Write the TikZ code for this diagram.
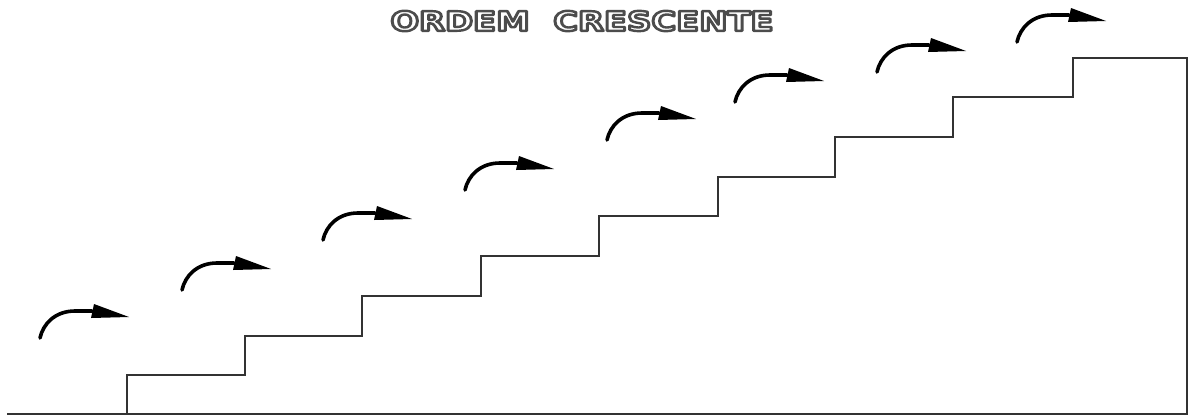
\documentclass[tikz,border=0pt]{standalone}
\usepackage{fontspec}
\newfontfamily\titlefont{DejaVu Sans}
\tikzset{
  stair/.style={line width=1.8pt, draw=black!80, line join=miter},
  shaft/.style={line width=3.6pt, line cap=round},
  curvearrow/.pic={
    \draw[shaft] (0,0) .. controls (3,-14) and (15,-27) .. (35,-27) -- (52,-27);
    \fill (54,-34) -- (51,-20) -- (89,-21) -- cycle;
  },
  titletext/.style={font=\titlefont\bfseries\fontsize{27}{27}\selectfont, inner sep=0pt, text=white}
}
\newcommand{\outlined}[1]{\special{pdf:literal direct 2 Tr 2.4 w 1 J 1 j 0.3 G}#1\special{pdf:literal direct 0 Tr}}
\begin{document}
\begin{tikzpicture}[x=1pt,y=-1pt]
\useasboundingbox (0,0) rectangle (1190,416);
% title
\node[titletext] (title) at (582,21) {\scalebox{1.25}[1]{\outlined{ORDEM\ \ CRESCENTE}}};
% staircase
\draw[stair] (7,414) -- (1187,414) -- (1187,58) -- (1073,58) -- (1073,97)
  -- (953,97) -- (953,137) -- (835,137) -- (835,177) -- (718,177)
  -- (718,216) -- (599,216) -- (599,256) -- (481,256) -- (481,296)
  -- (362,296) -- (362,336) -- (245,336) -- (245,375) -- (127,375) -- (127,414);
% arrows
\pic at (40,338) {curvearrow};
\pic at (182,290) {curvearrow};
\pic at (323,240) {curvearrow};
\pic at (465,190) {curvearrow};
\pic at (607,140) {curvearrow};
\pic at (735,102) {curvearrow};
\pic at (877,72) {curvearrow};
\pic at (1017,42) {curvearrow};
\end{tikzpicture}
\end{document}
